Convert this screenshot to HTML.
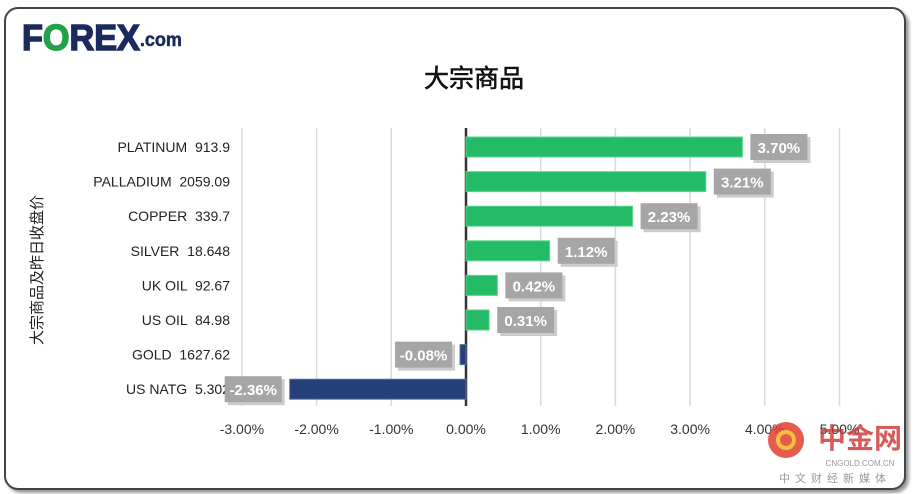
<!DOCTYPE html>
<html><head><meta charset="utf-8"><style>
body{margin:0;background:#fff;width:920px;height:494px;overflow:hidden;font-family:"Liberation Sans","Noto Sans CJK SC",sans-serif;}
#card{position:absolute;left:4px;top:7px;width:898px;height:479px;border:2px solid #444;border-radius:14px;box-shadow:3px 3px 3px #999;background:#fff;}
svg{position:absolute;left:0;top:0}
</style></head><body>
<div id="card"></div>
<svg id="c" width="920" height="494">
<text x="22" y="50" font-size="36" font-weight="bold" fill="#1b2a5e" font-family="Liberation Sans,sans-serif" transform="translate(22,0) scale(0.95,1) translate(-22,0)" stroke="#1b2a5e" stroke-width="1.5">F<tspan fill="#22a14a" stroke="#22a14a">O</tspan>REX<tspan font-size="19" dy="-4" stroke-width="0.5">.com</tspan></text>
<text x="474" y="87" font-size="25" text-anchor="middle" fill="#111" stroke="#111" stroke-width="0.6" font-family="Noto Sans CJK SC,sans-serif">大宗商品</text>
<text transform="translate(42,270) rotate(-90)" font-size="15" text-anchor="middle" fill="#222" font-family="Noto Sans CJK SC,sans-serif">大宗商品及昨日收盘价</text>
<g id="g"></g>
<circle cx="786" cy="440" r="18" fill="#e04030" opacity="0.85"/>
<circle cx="786" cy="440" r="8" fill="none" stroke="#f5c040" stroke-width="4"/>
<text x="860" y="448" font-size="28" font-weight="bold" fill="#c33" font-family="Noto Sans CJK SC,sans-serif" text-anchor="middle" opacity="0.8">中金网</text>
<text x="860" y="466" font-size="8" fill="#999" text-anchor="middle">CNGOLD.COM.CN</text>
<text x="835" y="482" font-size="11" fill="#999" text-anchor="middle" font-family="Noto Sans CJK SC,sans-serif" letter-spacing="5">中文财经新媒体</text>
</svg>
<script>
const categories=["PLATINUM  913.9","PALLADIUM  2059.09","COPPER  339.7","SILVER  18.648","UK OIL  92.67","US OIL  84.98","GOLD  1627.62","US NATG  5.302"];
const values=[3.70,3.21,2.23,1.12,0.42,0.31,-0.08,-2.36];
const ticks=[-3,-2,-1,0,1,2,3,4,5];
const NS="http://www.w3.org/2000/svg";
const g=document.getElementById('g');
const x=v=>466+v*74.7;
const y=i=>147+i*34.6;
function el(t,a){const e=document.createElementNS(NS,t);for(const k in a)e.setAttribute(k,a[k]);g.appendChild(e);return e;}
ticks.forEach(t=>{
 const l=el('line',{x1:x(t),x2:x(t),y1:128,y2:406,stroke:t===0?'#333':'#d9d9d9','stroke-width':t===0?2.5:1.5});
 
 
 const tx=el('text',{x:x(t),y:434,'font-size':14,'text-anchor':'middle',fill:'#333'});
 tx.textContent=t.toFixed(2)+'%';
 
 
});
categories.forEach((c,i)=>{
 const v=values[i],cy=y(i);
 const lb=el('text',{x:230,y:cy+5,'font-size':14,'text-anchor':'end',fill:'#222'});
 lb.textContent=c;lb.style.whiteSpace='pre';
 
 
 const x0=Math.min(x(0),x(v)),w=Math.abs(x(v)-x(0));
 const b=el('rect',{x:x0,y:cy-10,width:w,height:20,fill:v>=0?'#24bb67':'#243f7a',stroke:v>=0?'#5cd68d':'#5a6fa0','stroke-width':1});
 
 
 const bw=57,bx=v>=0?x(v)+8:x(v)-8-bw;
 el('rect',{x:bx+3,y:cy-13+3,width:bw,height:26,fill:'#ccc'});
 const box=el('rect',{x:bx,y:cy-13,width:bw,height:26,fill:'#a6a6a6'});
 
 
 const vt=el('text',{x:bx+bw/2,y:cy+6,'font-size':15,'font-weight':'bold','text-anchor':'middle',fill:'#fff'});
 vt.textContent=v.toFixed(2)+'%';
 
 
});
</script>
</body></html>
